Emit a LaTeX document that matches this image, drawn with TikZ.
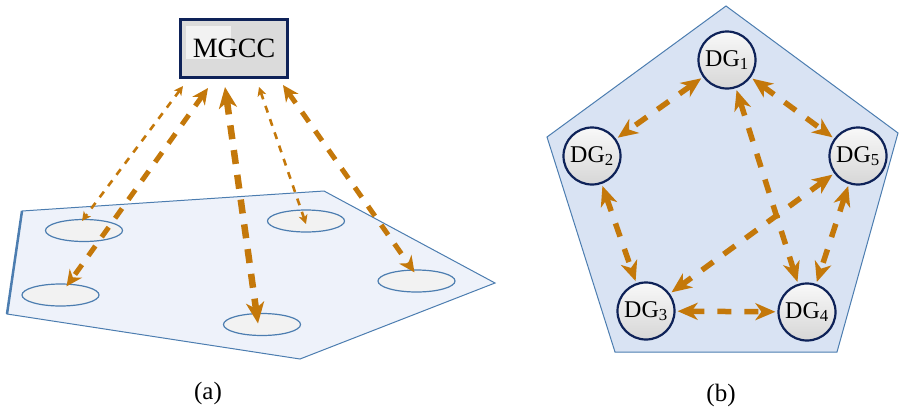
\documentclass[tikz,border=0pt]{standalone}
\usepackage{fontspec}
\setmainfont{Liberation Serif}
\usepackage{xcolor}
\definecolor{linkorange}{HTML}{C4780A}
\definecolor{navy}{HTML}{0E2258}
\definecolor{edgeblue}{HTML}{4C7DB0}
\definecolor{paleblue}{HTML}{EEF2FA}
\definecolor{softblue}{HTML}{D9E3F3}
\usepackage{tikz}
\usetikzlibrary{shapes.geometric,arrows.meta,positioning,calc}

\begin{document}
\begin{tikzpicture}[x=1pt,y=-1pt,
    gridspot/.style={ellipse, draw=edgeblue, line width=1.2pt, fill=gray!10, minimum width=77pt, minimum height=22pt, inner sep=0pt},
    dgnode/.style={circle, draw=navy, line width=2.2pt, top color=gray!5, bottom color=gray!32, minimum size=57pt, inner sep=0pt, font=\fontsize{24}{28}\selectfont},
    thinlink/.style={linkorange, line width=2.6pt, dash pattern=on 7pt off 7pt, arrows={Stealth[length=9pt,width=9pt,inset=2.5pt]-Stealth[length=9pt,width=9pt,inset=2.5pt]}},
    midlink/.style={linkorange, line width=5pt, dash pattern=on 12pt off 11pt, arrows={Stealth[length=16pt,width=15pt,inset=5pt]-Stealth[length=16pt,width=15pt,inset=5pt]}},
    thicklink/.style={linkorange, line width=6.5pt, dash pattern=on 14pt off 11pt, arrows={Stealth[length=21pt,width=18pt,inset=6pt]-Stealth[length=21pt,width=18pt,inset=6pt]}},
    dglink/.style={linkorange, line width=5.5pt, dash pattern=on 14pt off 13pt, shorten >=2pt, shorten <=2pt, arrows={Stealth[length=20pt,width=17pt,inset=6pt]-Stealth[length=20pt,width=17pt,inset=6pt]}},
    caption/.style={font=\fontsize{25}{28}\selectfont}]
  \useasboundingbox (0,0) rectangle (899,413);

  % (a) central controller over the grid
  \draw[edgeblue, line width=1pt, fill=paleblue] (22,211) -- (324,191) -- (495,283) -- (300,359) -- (7,314) -- cycle;
  \draw[edgeblue, line width=2.5pt] (22,211) -- (7,314);
  \foreach \n/\x/\y in {1/84/230.5, 2/60.5/295, 3/262/324.5, 4/306/221, 5/416.5/281} {
    \node[gridspot] (e\n) at (\x,\y) {};
  }
  \node[draw=navy, line width=3pt, fill=gray!28, minimum width=107pt, minimum height=58pt, inner sep=0pt,
        font=\fontsize{28}{32}\selectfont,
        path picture={\fill[gray!10] ($(path picture bounding box.north west)+(5.5,6.5)$) rectangle ++(45,33);}]
        (mgcc) at (234,48.5) {MGCC};
  \coordinate (m1) at ($(mgcc.south west)+(4,7)$);
  \coordinate (m2) at ($(mgcc.south west)+(29,9)$);
  \coordinate (m3) at ($(mgcc.south west)+(46,8)$);
  \coordinate (m4) at ($(mgcc.south west)+(80,8)$);
  \coordinate (m5) at ($(mgcc.south west)+(104,6)$);
  % Arrows
  \draw[thinlink] (m1) -- ($(e1.north)+(-2,2)$);
  \draw[midlink] (m2) -- ($(e2.north)+(6,3)$);
  \draw[thicklink] (m3) -- ($(e3)+(-4,-1)$);
  \draw[thinlink] (m4) -- ($(e4)+(0,3)$);
  \draw[midlink] (m5) -- ($(e5.north)+(-2,3)$);
  \node[caption] (capa) at (208,393) {(a)};

  % (b) peer-to-peer DGs
  \draw[edgeblue, line width=1pt, fill=softblue] (726,6) -- (898,133) -- (837,352) -- (615,352) -- (547,137) -- cycle;
  \foreach \n/\x/\y in {1/727/60, 2/592/156, 3/646/311, 4/807/312, 5/858/156} {
    \node[dgnode] (dg\n) at (\x,\y) {DG\textsubscript{\n}};
  }
  \foreach \a/\b in {1/2, 1/5, 1/4, 2/3, 5/3, 5/4, 3/4} {
    \draw[dglink] (dg\a) -- (dg\b);
  }
  \node[caption] (capb) at (721,395) {(b)};
\end{tikzpicture}
\end{document}
